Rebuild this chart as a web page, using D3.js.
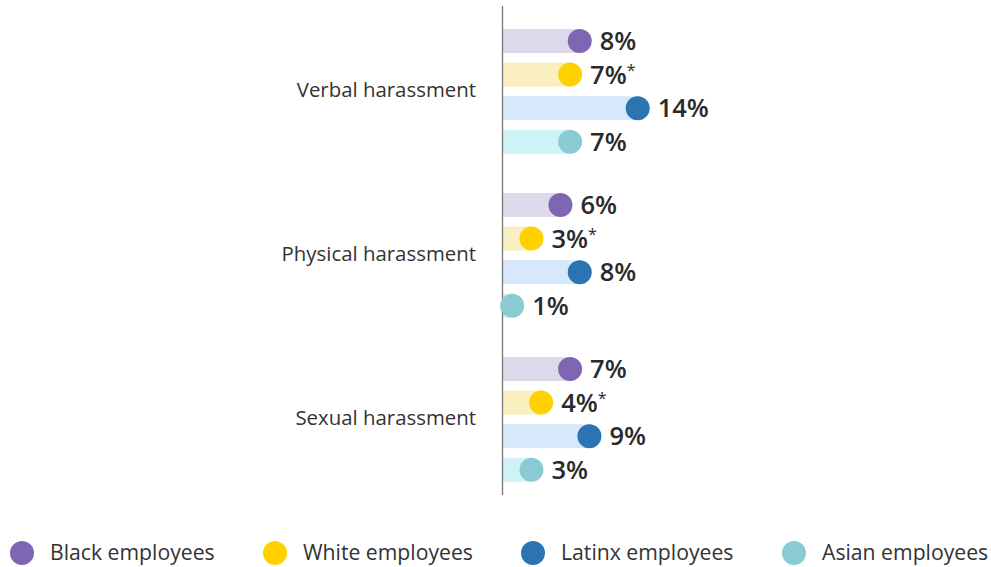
<!DOCTYPE html>
<html>
<head>
<meta charset="utf-8">
<script src="https://cdn.jsdelivr.net/npm/d3@7"></script>
<style>
  html, body { margin: 0; padding: 0; background: #fff; }
  svg { display: block; font-family: "Open Sans", "Noto Sans", sans-serif; }
</style>
</head>
<body>
<div id="chart"></div>
<script>
// Données du graphique
const categories = ['Verbal harassment', 'Physical harassment', 'Sexual harassment'];
const seriesNames = ['Black employees', 'White employees', 'Latinx employees', 'Asian employees'];
const blackValues = [8, 6, 7];
const whiteValues = [7, 3, 4];
const latinxValues = [14, 8, 9];
const asianValues = [7, 1, 3];
const flaggedSeries = ['White employees']; // valeurs marquées d'un astérisque

const seriesValues = [blackValues, whiteValues, latinxValues, asianValues];
const dotColors = ['#7f66b3', '#ffd100', '#2b74b1', '#8acbd3'];
const barColors = ['#ded8eb', '#faefc1', '#d7e8fa', '#cdf3f6'];

const width = 991;
const height = 567;
const axisX = 502.5;

const svg = d3.select('#chart')
    .append('svg')
    .attr('width', width)
    .attr('height', height)
    .attr('viewBox', `0 0 ${width} ${height}`);

// Échelles
const x = d3.scaleLinear()
    .domain([0, 14])
    .range([axisX, 637.7]);

const yGroup = d3.scaleBand()
    .domain(categories)
    .range([24.2, 486.6])
    .paddingInner(0.1805);

const yInner = d3.scaleBand()
    .domain(seriesNames)
    .range([0, yGroup.bandwidth()])
    .paddingInner(0.2857)
    .paddingOuter(0.1429);

// Lignes de données
const rows = [];
categories.forEach((cat, ci) => {
    seriesNames.forEach((s, si) => {
        rows.push({ cat, series: s, si, value: seriesValues[si][ci] });
    });
});

const rowY = d => yGroup(d.cat) + yInner(d.series);
const bh = yInner.bandwidth();
const r = 12;

// Barres
svg.append('g').selectAll('rect')
    .data(rows)
    .enter()
    .append('rect')
    .attr('x', x(0))
    .attr('y', rowY)
    .attr('width', d => x(d.value) - x(0))
    .attr('height', bh)
    .attr('fill', d => barColors[d.si]);

// Axe vertical
svg.append('line')
    .attr('x1', axisX).attr('x2', axisX)
    .attr('y1', 6).attr('y2', 495)
    .attr('stroke', '#777')
    .attr('stroke-width', 1.3);

// Points
svg.append('g').selectAll('circle')
    .data(rows)
    .enter()
    .append('circle')
    .attr('cx', d => x(d.value))
    .attr('cy', d => rowY(d) + bh / 2)
    .attr('r', r)
    .attr('fill', d => dotColors[d.si]);

// Étiquettes de valeurs
const labels = svg.append('g').selectAll('text')
    .data(rows)
    .enter()
    .append('text')
    .attr('x', d => x(d.value) + r + 8)
    .attr('y', d => rowY(d) + bh / 2)
    .attr('dy', '0.36em')
    .attr('fill', '#2a2a2a')
    .style('font-size', '25.5px')
    .style('font-weight', 600)
    .text(d => d.value + '%');

labels.filter(d => flaggedSeries.includes(d.series))
    .append('tspan')
    .attr('dy', '-0.5em')
    .style('font-size', '16px')
    .style('font-weight', 400)
    .text('*');

// Étiquettes de catégories
svg.append('g').selectAll('text')
    .data(categories)
    .enter()
    .append('text')
    .attr('x', 476)
    .attr('y', d => yGroup(d) + yGroup.bandwidth() / 2 - 1.5)
    .attr('dy', '0.35em')
    .attr('text-anchor', 'end')
    .attr('fill', '#333')
    .style('font-size', '20.4px')
    .text(d => d);

// Légende
const legendX = [22, 275, 533, 794];
const legend = svg.append('g').selectAll('g')
    .data(seriesNames)
    .enter()
    .append('g')
    .attr('transform', (d, i) => `translate(${legendX[i]}, 553)`);

legend.append('circle')
    .attr('r', r)
    .attr('fill', (d, i) => dotColors[i]);

legend.append('text')
    .attr('x', 28)
    .attr('dy', '0.35em')
    .attr('fill', '#333')
    .style('font-size', '21.2px')
    .text(d => d);
</script>
</body>
</html>
